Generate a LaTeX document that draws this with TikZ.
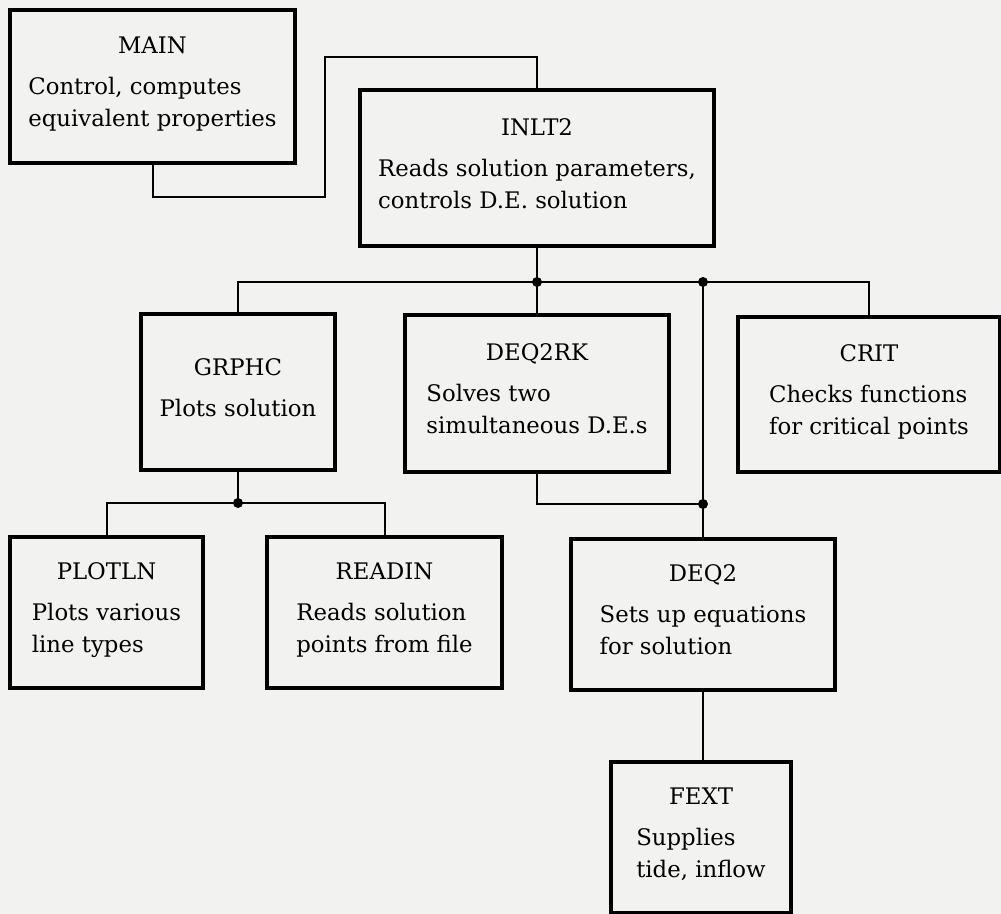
\documentclass[tikz,border=0pt]{standalone}
\usepackage{fontspec}
\setmainfont{DejaVu Serif}
\usetikzlibrary{positioning,calc}
\definecolor{papercol}{RGB}{242,242,240}
\newcommand{\progtext}[2]{#1\\[4.5pt]\begin{tabular}[t]{@{}l@{}}#2\end{tabular}}

\begin{document}
\begin{tikzpicture}[x=0.5pt,y=-0.5pt,
    prog/.style={draw,line width=1.6pt,inner sep=0pt,align=center,
      font=\fontsize{11.4}{16}\selectfont},
    jn/.style={circle,fill,inner sep=0pt,minimum size=5pt},
    wire/.style={line width=1pt}]
  \clip (0,0) rectangle (1001,914);
  \fill[papercol] (0,0) rectangle (1001,914);
  % program units
  \node[prog,minimum width=142.5pt,minimum height=76.5pt] (MAIN) at (152.5,86.5)
    {\progtext{MAIN}{Control, computes\\equivalent properties}};
  \node[prog,minimum width=177pt,minimum height=78pt] (INLT2) at (537,168)
    {\progtext{INLT2}{Reads solution parameters,\\controls D.E. solution}};
  \node[prog,minimum width=97pt,minimum height=78pt] (GRPHC) at (238,392)
    {\progtext{GRPHC}{Plots solution}};
  \node[prog,minimum width=132pt,minimum height=78.5pt] (DEQ2RK) at (537,393.5)
    {\progtext{DEQ2RK}{Solves two\\simultaneous D.E.s}};
  \node[prog,minimum width=131pt,minimum height=77.5pt] (CRIT) at (869,394.5)
    {\progtext{CRIT}{Checks functions\\for critical points}};
  \node[prog,minimum width=96.5pt,minimum height=75.5pt] (PLOTLN) at (106.5,612.5)
    {\progtext{PLOTLN}{Plots various\\line types}};
  \node[prog,minimum width=117.5pt,minimum height=75.5pt] (READIN) at (384.5,612.5)
    {\progtext{READIN}{Reads solution\\points from file}};
  \node[prog,minimum width=132pt,minimum height=75.5pt] (DEQ2) at (703,614.5)
    {\progtext{DEQ2}{Sets up equations\\for solution}};
  \node[prog,minimum width=90pt,minimum height=75.5pt] (FEXT) at (701,837.5)
    {\progtext{FEXT}{Supplies\\tide, inflow}};
  % junctions
  \node[jn] (j1) at (537,282) {};
  \node[jn] (j2) at (703,282) {};
  \node[jn] (j3) at (238,503) {};
  \node[jn] (j4) at (703,504) {};
  % calls
  \draw[wire] (MAIN.south) -- (MAIN.south |- 0,197) -| (325,57) -| (INLT2.north);
  \draw[wire] (INLT2.south) -- (j1.center) -- (DEQ2RK.north);
  \draw[wire] (GRPHC.north) |- (j1.center) -- (j2.center) -| (CRIT.north);
  \draw[wire] (j2.center) -- (j4.center) -- (DEQ2.north);
  \draw[wire] (DEQ2RK.south) |- (j4.center);
  \draw[wire] (GRPHC.south) -- (j3.center);
  \draw[wire] (PLOTLN.north) |- (j3.center) -| (READIN.north);
  \draw[wire] (DEQ2.south) -- (DEQ2.south |- FEXT.north);
\end{tikzpicture}
\end{document}
